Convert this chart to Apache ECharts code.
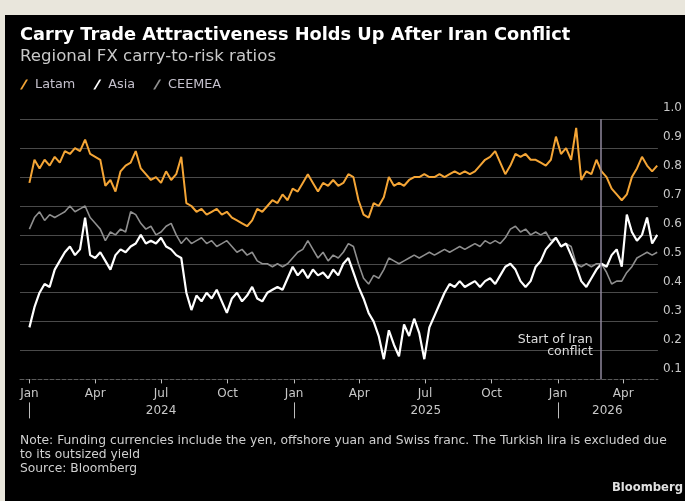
<!DOCTYPE html>
<html><head><meta charset="utf-8">
<style>
html,body{margin:0;padding:0;background:#e9e6dc;width:685px;height:501px;overflow:hidden}
#chart{position:absolute;left:5px;top:15px;width:680px;height:486px;background:#000}
</style>
<script src="https://cdn.jsdelivr.net/npm/echarts@6/dist/echarts.min.js"></script>
</head><body><div id="chart"></div>
<script>
const dates = [
'2024-01-01','2024-01-08','2024-01-15','2024-01-22','2024-01-29','2024-02-05','2024-02-12','2024-02-19','2024-02-26','2024-03-04',
'2024-03-11','2024-03-18','2024-03-25','2024-04-01','2024-04-08','2024-04-15','2024-04-22','2024-04-29','2024-05-06','2024-05-13',
'2024-05-20','2024-05-27','2024-06-03','2024-06-10','2024-06-17','2024-06-24','2024-07-01','2024-07-08','2024-07-15','2024-07-22',
'2024-07-29','2024-08-05','2024-08-12','2024-08-19','2024-08-26','2024-09-02','2024-09-09','2024-09-16','2024-09-23','2024-09-30',
'2024-10-07','2024-10-14','2024-10-21','2024-10-28','2024-11-04','2024-11-11','2024-11-18','2024-11-25','2024-12-02','2024-12-09',
'2024-12-16','2024-12-23','2024-12-30','2025-01-06','2025-01-13','2025-01-20','2025-01-27','2025-02-03','2025-02-10','2025-02-17',
'2025-02-24','2025-03-03','2025-03-10','2025-03-17','2025-03-24','2025-03-31','2025-04-07','2025-04-14','2025-04-21','2025-04-28',
'2025-05-05','2025-05-12','2025-05-19','2025-05-26','2025-06-02','2025-06-09','2025-06-16','2025-06-23','2025-06-30','2025-07-07',
'2025-07-14','2025-07-21','2025-07-28','2025-08-04','2025-08-11','2025-08-18','2025-08-25','2025-09-01','2025-09-08','2025-09-15',
'2025-09-22','2025-09-29','2025-10-06','2025-10-13','2025-10-20','2025-10-27','2025-11-03','2025-11-10','2025-11-17','2025-11-24',
'2025-12-01','2025-12-08','2025-12-15','2025-12-22','2025-12-29','2026-01-05','2026-01-12','2026-01-19','2026-01-26','2026-02-02',
'2026-02-09','2026-02-16','2026-02-23','2026-03-02','2026-03-09','2026-03-16','2026-03-23','2026-03-30','2026-04-06','2026-04-13',
'2026-04-20','2026-04-27','2026-05-04','2026-05-11','2026-05-18'
];
const latam = [
0.78,0.86,0.83,0.86,0.84,0.87,0.85,0.89,0.88,0.90,
0.89,0.93,0.88,0.87,0.86,0.77,0.79,0.75,0.82,0.84,
0.85,0.89,0.83,0.81,0.79,0.80,0.78,0.82,0.79,0.81,
0.87,0.71,0.70,0.68,0.69,0.67,0.68,0.69,0.67,0.68,
0.66,0.65,0.64,0.63,0.65,0.69,0.68,0.70,0.72,0.71,
0.74,0.72,0.76,0.75,0.78,0.81,0.78,0.75,0.78,0.77,
0.79,0.77,0.78,0.81,0.80,0.72,0.67,0.66,0.71,0.70,
0.73,0.80,0.77,0.78,0.77,0.79,0.80,0.80,0.81,0.80,
0.80,0.81,0.80,0.81,0.82,0.81,0.82,0.81,0.82,0.84,
0.86,0.87,0.89,0.85,0.81,0.84,0.88,0.87,0.88,0.86,
0.86,0.85,0.84,0.86,0.94,0.88,0.90,0.86,0.97,0.79,
0.82,0.81,0.86,0.82,0.80,0.76,0.74,0.72,0.74,0.80,
0.83,0.87,0.84,0.82,0.84
];
const asia = [
0.28,0.35,0.40,0.43,0.42,0.48,0.51,0.54,0.56,0.53,
0.55,0.66,0.53,0.52,0.54,0.51,0.48,0.53,0.55,0.54,
0.56,0.57,0.60,0.57,0.58,0.57,0.59,0.56,0.55,0.53,
0.52,0.40,0.34,0.39,0.37,0.40,0.38,0.41,0.37,0.33,
0.38,0.40,0.37,0.39,0.42,0.38,0.37,0.40,0.41,0.42,
0.41,0.45,0.49,0.46,0.48,0.45,0.48,0.46,0.47,0.45,
0.48,0.46,0.50,0.52,0.47,0.42,0.38,0.33,0.30,0.25,
0.17,0.27,0.22,0.18,0.29,0.25,0.31,0.26,0.17,0.28,
0.32,0.36,0.40,0.43,0.42,0.44,0.42,0.43,0.44,0.42,
0.44,0.45,0.43,0.46,0.49,0.50,0.48,0.44,0.42,0.44,
0.49,0.51,0.55,0.57,0.59,0.56,0.57,0.53,0.49,0.44,
0.42,0.45,0.48,0.50,0.49,0.53,0.55,0.49,0.67,0.61,
0.58,0.60,0.66,0.57,0.60
];
const ceemea = [
0.62,0.66,0.68,0.65,0.67,0.66,0.67,0.68,0.70,0.68,
0.69,0.70,0.66,0.64,0.62,0.58,0.61,0.60,0.62,0.61,
0.68,0.67,0.64,0.62,0.63,0.60,0.61,0.63,0.64,0.60,
0.57,0.59,0.57,0.58,0.59,0.57,0.58,0.56,0.57,0.58,
0.56,0.54,0.55,0.53,0.54,0.51,0.50,0.50,0.49,0.50,
0.49,0.50,0.52,0.54,0.55,0.58,0.55,0.52,0.54,0.51,
0.53,0.52,0.54,0.57,0.56,0.50,0.45,0.43,0.46,0.45,
0.48,0.52,0.51,0.50,0.51,0.52,0.53,0.52,0.53,0.54,
0.53,0.54,0.55,0.54,0.55,0.56,0.55,0.56,0.57,0.56,
0.58,0.57,0.58,0.57,0.59,0.62,0.63,0.61,0.62,0.60,
0.61,0.60,0.61,0.58,0.59,0.56,0.57,0.56,0.50,0.49,
0.50,0.49,0.50,0.50,0.47,0.43,0.44,0.44,0.47,0.49,
0.52,0.53,0.54,0.53,0.54
];
const seriesNames = ['Latam','Asia','CEEMEA'];
const monthTicks = ['2024-01-01','2024-04-01','2024-07-01','2024-10-01','2025-01-01','2025-04-01','2025-07-01','2025-10-01','2026-01-01','2026-04-01'];
const monthTickLabels = ['Jan','Apr','Jul','Oct','Jan','Apr','Jul','Oct','Jan','Apr'];
const yearSeparators = ['2024-01-01','2025-01-01','2026-01-01'];
const yearLabelDates = ['2024-07-01','2025-07-02','2026-03-10'];
const yearLabels = ['2024','2025','2026'];
const axisStart = '2023-12-19';
const axisEnd = '2026-05-19';
const iranDate = '2026-03-01';
const iranLabelValue = 0.2155;
const yMin = 0.1, yMax = 1.0, yStep = 0.1;

function toTs(s){ const p = s.split('-').map(Number); return Date.UTC(p[0], p[1]-1, p[2]); }
const monthTs = monthTicks.map(toTs);
const monthMap = {}; monthTs.forEach((t,i)=>{ monthMap[t] = monthTickLabels[i]; });
const yearLabTs = yearLabelDates.map(toTs);
const yearMap = {}; yearLabTs.forEach((t,i)=>{ yearMap[t] = yearLabels[i]; });
const FONT = 'DejaVu Sans';
const mk = arr => dates.map((d,i)=>[toTs(d), arr[i]]);

const chart = echarts.init(document.getElementById('chart'), null, {renderer:'canvas'});
const option = {
  animation:false,
  backgroundColor:'#000',
  textStyle:{fontFamily:FONT},
  title:[
    {text:'Carry Trade Attractiveness Holds Up After Iran Conflict', left:15, top:10, padding:0,
     textStyle:{color:'#ffffff', fontSize:17.8, fontWeight:'bold', lineHeight:20, fontFamily:FONT}},
    {text:'Regional FX carry-to-risk ratios', left:15, top:33, padding:0,
     textStyle:{color:'#c9c9c9', fontSize:16.6, fontWeight:'normal', lineHeight:18, fontFamily:FONT}},
    {text:'Note: Funding currencies include the yen, offshore yuan and Swiss franc. The Turkish lira is excluded due\nto its outsized yield\nSource: Bloomberg',
     left:15, top:419, padding:0,
     textStyle:{color:'#cfcfcf', fontSize:12.3, fontWeight:'normal', lineHeight:14, fontFamily:FONT}},
    {text:'Bloomberg', right:2, top:466, padding:0,
     textStyle:{color:'#e0e0e0', fontSize:11.6, fontWeight:'bold', lineHeight:14, fontFamily:FONT}}
  ],
  legend:{left:15, top:63, padding:0, itemGap:18, itemWidth:8, itemHeight:10,
    icon:'path://M6,0L8,0L2,10L0,10Z',
    textStyle:{color:'#c4c0cc', fontSize:12.8, padding:[0,0,0,2], fontFamily:FONT},
    data:seriesNames},
  grid:{left:15, right:27, top:104.3, bottom:121.6},
  xAxis:[
    {type:'value', min:toTs(axisStart), max:toTs(axisEnd), position:'bottom',
     axisLine:{show:true, onZero:false, lineStyle:{color:'#5a5a5a', width:1, type:[4,2]}},
     axisTick:{show:true, customValues:monthTs, length:4, lineStyle:{color:'#bdbdbd'}},
     axisLabel:{customValues:monthTs, color:'#c8c8c8', fontSize:12, margin:8, fontFamily:FONT,
       formatter:v=>monthMap[v] || ''},
     splitLine:{show:false}},
    {type:'value', min:toTs(axisStart), max:toTs(axisEnd), position:'bottom', offset:23,
     axisLine:{show:false, onZero:false},
     axisTick:{show:true, customValues:yearSeparators.map(toTs), length:16, lineStyle:{color:'#bdbdbd'}},
     axisLabel:{customValues:yearLabTs, color:'#c8c8c8', fontSize:12, margin:2, fontFamily:FONT,
       formatter:v=>yearMap[v] || ''},
     splitLine:{show:false}}
  ],
  yAxis:{type:'value', position:'right', min:yMin, max:yMax, interval:yStep,
    axisLine:{show:false}, axisTick:{show:false},
    splitLine:{show:true, showMinLine:false, lineStyle:{color:'#4a4a4a', width:1}},
    axisLabel:{color:'#c8c8c8', fontSize:12, margin:5, verticalAlign:'bottom', lineHeight:12,
      padding:[0,0,5,0], fontFamily:FONT, formatter:v=>v.toFixed(1)}},
  series:[
    {name:seriesNames[0], type:'line', data:mk(latam), showSymbol:false, symbol:'none',
     color:'#f4a536', lineStyle:{width:2}, z:4,
     markLine:{silent:true, symbol:['none','none'], label:{show:false},
       lineStyle:{color:'#8f879c', width:1.5, type:'solid'},
       data:[{xAxis:toTs(iranDate)}]},
     markPoint:{silent:true, symbol:'circle', symbolSize:0,
       data:[{coord:[toTs(iranDate), iranLabelValue],
         label:{show:true, position:'left', distance:8, formatter:'Start of Iran\nconflict',
           color:'#dcdcdc', fontSize:12.5, lineHeight:12, align:'right', fontFamily:FONT}}]}},
    {name:seriesNames[1], type:'line', data:mk(asia), showSymbol:false, symbol:'none',
     color:'#ffffff', lineStyle:{width:2.2}, z:3},
    {name:seriesNames[2], type:'line', data:mk(ceemea), showSymbol:false, symbol:'none',
     color:'#8f8f8f', lineStyle:{width:1.6}, z:2}
  ]
};
chart.setOption(option);
</script></body></html>
